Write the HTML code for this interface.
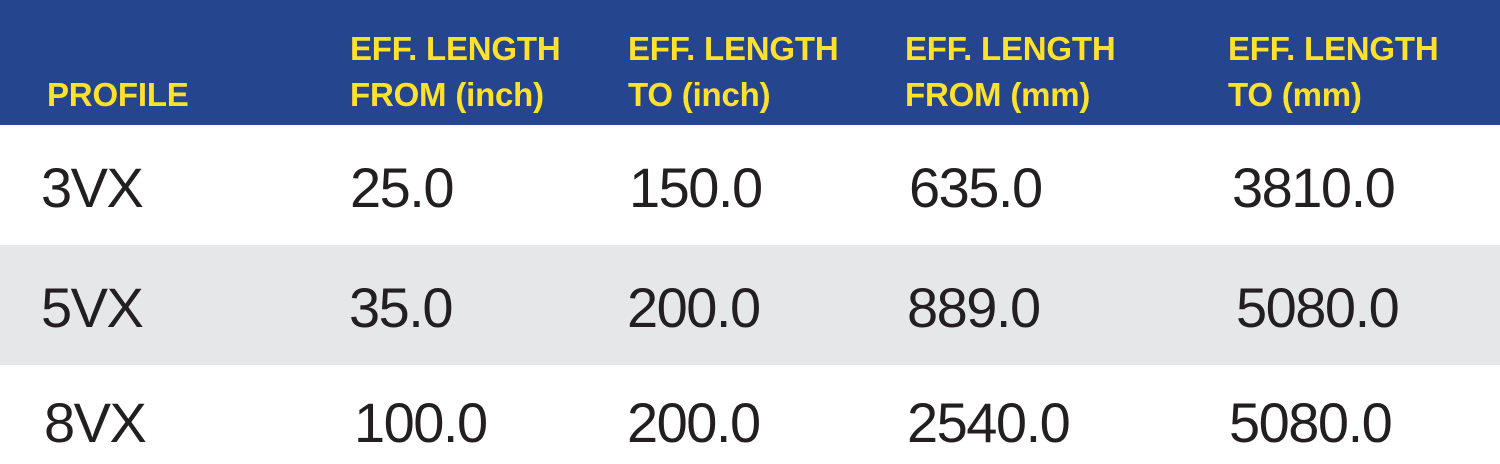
<!DOCTYPE html>
<html><head><meta charset="utf-8"><style>
html,body{margin:0;padding:0;}
body{width:1500px;height:464px;position:relative;overflow:hidden;background:#fff;font-family:"Liberation Sans",sans-serif;}
.hdr{position:absolute;left:0;top:0;width:1500px;height:125px;background:#26458f;}
.row{position:absolute;left:0;width:1500px;height:120px;}
.h{position:absolute;color:#fde12a;font-weight:bold;font-size:33px;line-height:46px;letter-spacing:-0.2px;white-space:nowrap;}
.c{position:absolute;color:#231f20;font-size:56px;letter-spacing:-1.5px;line-height:60px;white-space:nowrap;}
</style></head><body>
<div class="hdr"></div>
<div class="h" style="left:47px;top:72px">PROFILE</div>
<div class="h" style="left:350px;top:26px">EFF. LENGTH<br>FROM (inch)</div>
<div class="h" style="left:628px;top:26px">EFF. LENGTH<br>TO (inch)</div>
<div class="h" style="left:905px;top:26px">EFF. LENGTH<br>FROM (mm)</div>
<div class="h" style="left:1228px;top:26px">EFF. LENGTH<br>TO (mm)</div>

<div class="row" style="top:125px;background:#fff"></div>
<div class="row" style="top:245px;background:#e6e7e8"></div>
<div class="row" style="top:365px;height:99px;background:#fff"></div>

<div class="c" style="left:41px;top:158px">3VX</div>
<div class="c" style="left:350px;top:158px">25.0</div>
<div class="c" style="left:629px;top:158px">150.0</div>
<div class="c" style="left:909px;top:158px">635.0</div>
<div class="c" style="left:1232px;top:158px">3810.0</div>

<div class="c" style="left:41px;top:278px">5VX</div>
<div class="c" style="left:349px;top:278px">35.0</div>
<div class="c" style="left:627px;top:278px">200.0</div>
<div class="c" style="left:907px;top:278px">889.0</div>
<div class="c" style="left:1236px;top:278px">5080.0</div>

<div class="c" style="left:44px;top:393px">8VX</div>
<div class="c" style="left:354px;top:393px">100.0</div>
<div class="c" style="left:627px;top:393px">200.0</div>
<div class="c" style="left:907px;top:393px">2540.0</div>
<div class="c" style="left:1229px;top:393px">5080.0</div>
</body></html>
